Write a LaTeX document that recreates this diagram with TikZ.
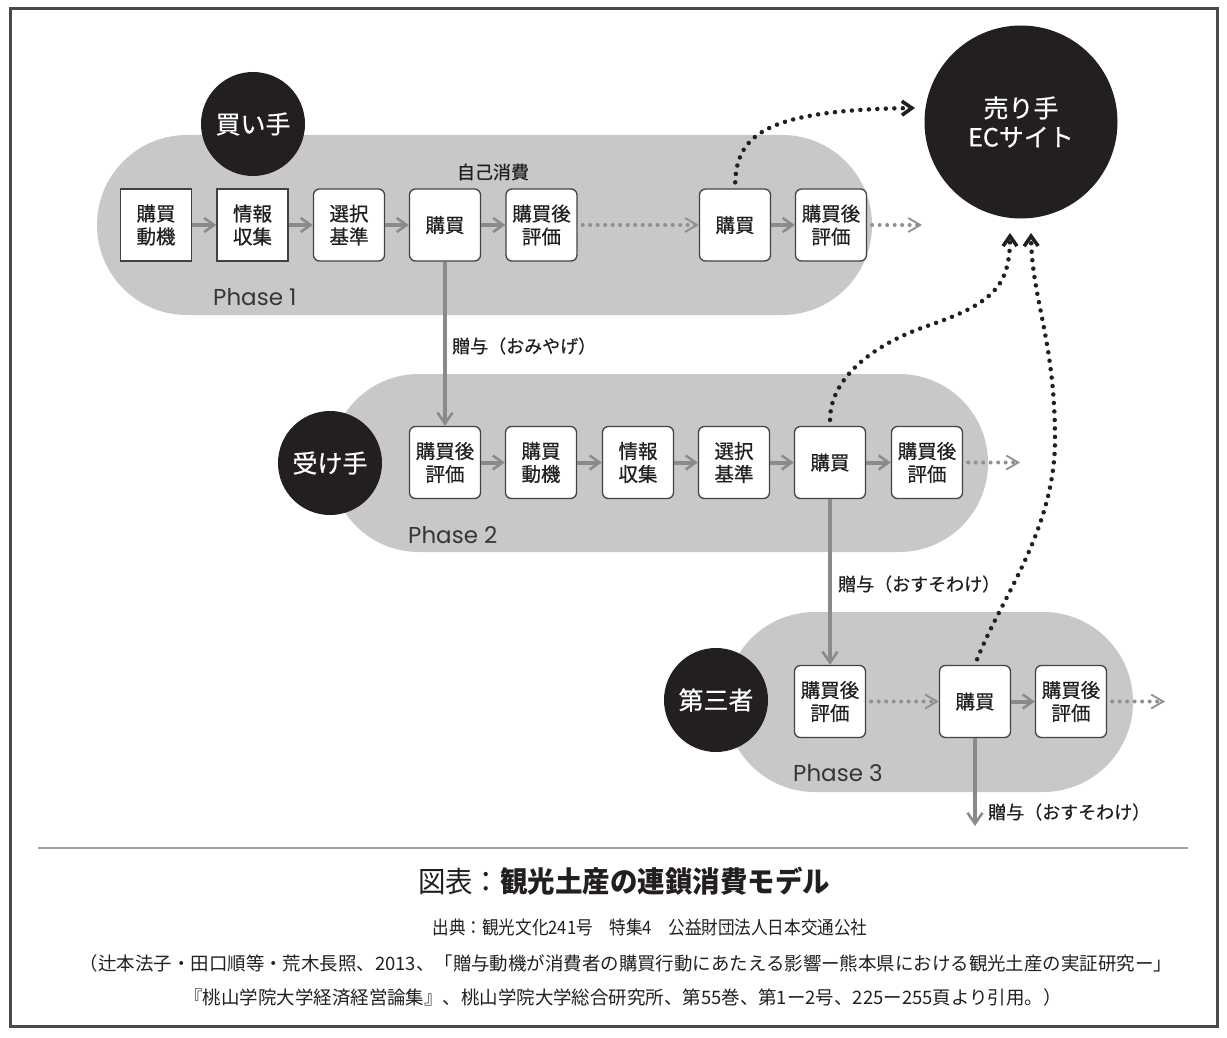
\documentclass[tikz,border=0pt]{standalone}
\usepackage{fontspec}
\setmainfont{Noto Sans CJK JP}
\newfontfamily\jpmed{Noto Sans CJK JP}[FakeBold=0.6]
\newfontfamily\phasefont{Poppins}
\usetikzlibrary{arrows.meta}
\definecolor{pill}{HTML}{C8C8C9}
\definecolor{ink}{HTML}{231F20}
\definecolor{arrowgray}{HTML}{8A8A8A}
\definecolor{dotgray}{HTML}{8F8F8F}
\definecolor{frame}{HTML}{4A4A4A}
\definecolor{rulegray}{HTML}{A0A0A0}
\begin{document}
\begin{tikzpicture}[x=1pt,y=-1pt,
 stepbox/.style={draw=ink!85, line width=1.3pt, fill=white, rounded corners=6pt, minimum width=71pt, minimum height=72pt, align=center, inner sep=0pt, text=ink, font=\jpmed\fontsize{19.5}{23}\selectfont},
 sqbox/.style={stepbox, sharp corners},
 actor/.style={circle, fill=ink, text=white, minimum size=104pt, inner sep=0pt, align=center, font=\jpmed\fontsize{25}{29}\selectfont},
 flow/.style={arrowgray, line width=4pt, -{Straight Barb[length=10pt,width=14pt,line width=2.5pt]}},
 gift/.style={arrowgray, line width=3.5pt, -{Straight Barb[length=11pt,width=15pt,line width=2.5pt]}},
 gdots/.style={dotgray, line width=4pt, line cap=round, dash pattern=on 0pt off 7.5pt, shorten <=5pt, -{Straight Barb[length=12pt,width=14pt,line width=1.8pt]}},
 bdots/.style={ink, line width=4.5pt, line cap=round, dash pattern=on 0pt off 8.5pt, shorten <=6pt, -{Straight Barb[length=10pt,width=14pt,line width=3.6pt]}},
 lbl/.style={font=\jpmed\fontsize{18}{20}\selectfont, inner sep=0pt, text=ink},
 phase/.style={font=\phasefont\fontsize{23}{25}\selectfont, inner sep=0pt, anchor=west, text=ink!90},
 captext/.style={inner sep=0pt, text=ink},
]
\useasboundingbox (0,0) rectangle (1227,1038);
\fill[white] (0,0) rectangle (1227,1038);
\draw[frame, line width=3pt] (10,9) rectangle (1217,1026);

% pills
\fill[pill, rounded corners=89.9pt] (97,135) rectangle (872,315);
\fill[pill, rounded corners=88.9pt] (330,374) rectangle (988,552);
\fill[pill, rounded corners=89.9pt] (725,612) rectangle (1133,792);

% actors
\node[actor] (buyer) at (253,124) {買い手};
\node[actor] (recv) at (330,463) {受け手};
\node[actor] (third) at (716,700) {第三者};
\node[actor, minimum size=193pt] (ec) at (1021,122) {売り手\\ECサイト};

% phase 1
\node[sqbox] (a1) at (156,225) {購買\\動機};
\node[sqbox] (a2) at (252.5,225) {情報\\収集};
\node[stepbox] (a3) at (349,225) {選択\\基準};
\node[stepbox] (a4) at (445,225) {購買};
\node[stepbox] (a5) at (541.5,225) {購買後\\評価};
\node[stepbox] (a6) at (735,225) {購買};
\node[stepbox] (a7) at (831,225) {購買後\\評価};
\node[lbl] (self) at (493,172) {自己消費};
\node[phase] (p1) at (213,297) {Phase 1};

% phase 2
\node[stepbox] (b1) at (445,462.5) {購買後\\評価};
\node[stepbox] (b2) at (541,462.5) {購買\\動機};
\node[stepbox] (b3) at (638,462.5) {情報\\収集};
\node[stepbox] (b4) at (734,462.5) {選択\\基準};
\node[stepbox] (b5) at (830,462.5) {購買};
\node[stepbox] (b6) at (927,462.5) {購買後\\評価};
\node[phase] (p2) at (408,535) {Phase 2};

% phase 3
\node[stepbox] (c1) at (830,701.5) {購買後\\評価};
\node[stepbox] (c2) at (975,701.5) {購買};
\node[stepbox] (c3) at (1071,701.5) {購買後\\評価};
\node[phase] (p3) at (793,773) {Phase 3};

% free ends
\coordinate (e1) at (922,225);
\coordinate (e2) at (1020,462.5);
\coordinate (e3) at (1165,701.5);
\coordinate (e4) at (975,826);
\coordinate (t1) at (915,108);
\coordinate (t2) at (1010,233);
\coordinate (t3) at (1031,233);

% flows
\draw[flow] (a1) -- (a2);
\draw[flow] (a2) -- (a3);
\draw[flow] (a3) -- (a4);
\draw[flow] (a4) -- (a5);
\draw[gdots] (a5) -- (a6);
\draw[flow] (a6) -- (a7);
\draw[gdots] (a7) -- (e1);

\draw[flow] (b1) -- (b2);
\draw[flow] (b2) -- (b3);
\draw[flow] (b3) -- (b4);
\draw[flow] (b4) -- (b5);
\draw[flow] (b5) -- (b6);
\draw[gdots] (b6) -- (e2);

\draw[gdots] (c1) -- (c2);
\draw[flow] (c2) -- (c3);
\draw[gdots] (c3) -- (e3);

% gifts
\draw[gift] (a4) -- (b1);
\draw[gift] (b5) -- (c1);
\draw[gift] (c2) -- (e4);
\node[lbl, anchor=west] (g1) at (452,346) {贈与（おみやげ）};
\node[lbl, anchor=west] (g2) at (838,584) {贈与（おすそわけ）};
\node[lbl, anchor=west] (g3) at (988,812) {贈与（おすそわけ）};

% to EC site
\draw[bdots] (a6.north) .. controls (737,135) and (765,110) .. (t1);
\draw[bdots] (b5.north) .. controls (830,380) and (870,345) .. (930,325) .. controls (994,303) and (1010,285) .. (t2);
\draw[bdots] (c2.north) .. controls (1000,600) and (1055,530) .. (1055,440) .. controls (1055,340) and (1032,300) .. (t3);

% caption
\draw[rulegray, line width=1.5pt] (38,848) -- (1188,848);
\node[captext] (title) at (624,881) {\resizebox{412pt}{\height}{\fontsize{29}{32}\selectfont 図表：\bfseries 観光土産の連鎖消費モデル}};
\node[captext] (src1) at (650,927) {\resizebox{435pt}{\height}{\fontsize{18.5}{21}\selectfont 出典：観光文化241号　特集4　公益財団法人日本交通公社}};
\node[captext] (src2) at (626,963) {\resizebox{1092pt}{\height}{\fontsize{18.5}{21}\selectfont （辻本法子・田口順等・荒木長照、2013、「贈与動機が消費者の購買行動にあたえる影響ー熊本県における観光土産の実証研究ー」}};
\node[captext] (src3) at (623,997) {\resizebox{877pt}{\height}{\fontsize{18.5}{21}\selectfont 『桃山学院大学経済経営論集』、桃山学院大学総合研究所、第55巻、第1ー2号、225ー255頁より引用。）}};
\end{tikzpicture}
\end{document}
